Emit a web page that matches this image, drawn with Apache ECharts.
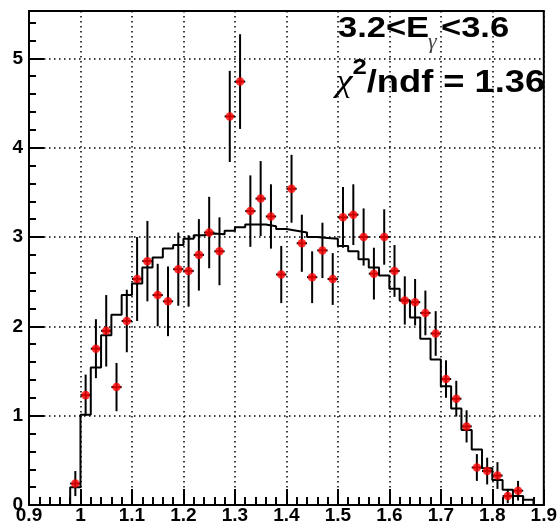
<!DOCTYPE html>
<html><head><meta charset="utf-8">
<script src="https://cdn.jsdelivr.net/npm/echarts@6/dist/echarts.min.js"></script>
<style>html,body{margin:0;padding:0;background:#fff}#c{width:560px;height:525px}</style>
</head><body><div id="c"></div>
<script>
// Data points (bin centres, values, errors)
const xCenters = [0.99,1.01,1.03,1.05,1.07,1.09,1.11,1.13,1.15,1.17,1.19,1.21,1.23,1.25,1.27,1.29,1.31,1.33,1.35,1.37,1.39,1.41,1.43,1.45,1.47,1.49,1.51,1.53,1.55,1.57,1.59,1.61,1.63,1.65,1.67,1.69,1.71,1.73,1.75,1.77,1.79,1.81,1.83,1.85];
const yValues = [0.24,1.23,1.75,1.95,1.32,2.06,2.53,2.73,2.35,2.28,2.64,2.62,2.80,3.05,2.84,4.35,4.74,3.29,3.43,3.23,2.58,3.54,2.93,2.55,2.85,2.53,3.22,3.25,3.00,2.59,3.00,2.62,2.29,2.27,2.15,1.92,1.41,1.19,0.88,0.42,0.38,0.33,0.10,0.16];
const yErrors = [0.14,0.23,0.33,0.40,0.27,0.35,0.47,0.45,0.35,0.39,0.41,0.40,0.40,0.40,0.38,0.51,0.53,0.40,0.42,0.36,0.32,0.38,0.32,0.29,0.31,0.29,0.34,0.34,0.32,0.29,0.31,0.29,0.27,0.26,0.25,0.25,0.21,0.20,0.18,0.15,0.15,0.15,0.08,0.11];
// Fit histogram (bin left edges, contents)
const fitBinLeft = [0.98,1.00,1.02,1.04,1.06,1.08,1.10,1.12,1.14,1.16,1.18,1.20,1.22,1.24,1.26,1.28,1.30,1.32,1.34,1.36,1.38,1.40,1.42,1.44,1.46,1.48,1.50,1.52,1.54,1.56,1.58,1.60,1.62,1.64,1.66,1.68,1.70,1.72,1.74,1.76,1.78,1.80,1.82,1.84,1.86];
const fitValues = [0.20,1.01,1.54,1.90,2.13,2.35,2.48,2.66,2.77,2.87,2.91,2.98,3.02,3.04,3.03,3.07,3.11,3.14,3.14,3.12,3.09,3.07,3.05,3.00,2.99,2.98,2.90,2.84,2.75,2.66,2.57,2.42,2.29,2.10,1.86,1.63,1.33,1.08,0.84,0.62,0.41,0.28,0.17,0.10,0.06];
const binWidth = 0.02;
// Axis settings
const xMin = 0.9, xMax = 1.9, xStep = 0.1;
const yMin = 0, yMax = 5.53, yStep = 1;

const pointData = xCenters.map((x, i) => [x, yValues[i], yErrors[i]]);
const fitData = [[fitBinLeft[0], 0]];
fitBinLeft.forEach((l, i) => { fitData.push([l, fitValues[i]]); fitData.push([l + binWidth, fitValues[i]]); });
fitData.push([fitBinLeft[fitBinLeft.length - 1] + binWidth, 0]);

const chart = echarts.init(document.getElementById('c'), null, {renderer: 'canvas'});
const SANS = '"Liberation Sans", Arial, sans-serif';
const labelFont = {fontFamily: SANS, fontWeight: 'bold', fontSize: 19, color: '#000'};
const dotted = {color: '#000', width: 1.5, type: [1.5, 3.5]};
const bigText = {fontFamily: SANS, fontWeight: 'bold', fontSize: 30, fill: '#000', verticalAlign: 'top', align: 'left'};
chart.setOption({
  animation: false,
  backgroundColor: '#fff',
  grid: {left: 29, right: 6, top: 11, bottom: 20, show: true, borderColor: '#000', borderWidth: 2, backgroundColor: 'transparent'},
  xAxis: {
    type: 'value', min: xMin, max: xMax, interval: xStep,
    axisLine: {show: true, onZero: false, lineStyle: {color: '#000', width: 2}},
    axisTick: {show: true, inside: true, length: 16, lineStyle: {color: '#000', width: 2}},
    minorTick: {show: true, splitNumber: 5, length: 8, lineStyle: {color: '#000', width: 2}},
    axisLabel: Object.assign({margin: 1}, labelFont),
    splitLine: {show: true, lineStyle: dotted}
  },
  yAxis: {
    type: 'value', min: yMin, max: yMax, interval: yStep,
    axisLine: {show: true, onZero: false, lineStyle: {color: '#000', width: 2}},
    axisTick: {show: true, inside: true, length: 15, lineStyle: {color: '#000', width: 2}},
    minorTick: {show: true, splitNumber: 5, length: 7, lineStyle: {color: '#000', width: 2}},
    axisLabel: Object.assign({margin: 6, showMaxLabel: false}, labelFont),
    splitLine: {show: true, lineStyle: dotted}
  },
  series: [
    {
      type: 'line', data: fitData, showSymbol: false, symbol: 'none',
      lineStyle: {color: '#000', width: 2}, z: 3, silent: true
    },
    {
      type: 'custom', data: pointData, z: 4, silent: true,
      renderItem: function (params, api) {
        const x = api.value(0), y = api.value(1), e = api.value(2);
        const t = api.coord([x, y + e]), b = api.coord([x, y - e]);
        const l = api.coord([x - binWidth / 2, y]), r = api.coord([x + binWidth / 2, y]);
        return {type: 'group', children: [
          {type: 'line', shape: {x1: t[0], y1: t[1], x2: b[0], y2: b[1]}, style: {stroke: '#000', lineWidth: 2}},
          {type: 'line', shape: {x1: l[0], y1: l[1], x2: r[0], y2: r[1]}, style: {stroke: '#000', lineWidth: 2}}
        ]};
      }
    },
    {
      type: 'scatter', data: pointData.map(p => [p[0], p[1]]), symbol: 'circle', symbolSize: 8.5,
      itemStyle: {color: '#ff0000'}, z: 5, silent: true
    }
  ],
  graphic: [
    {type: 'text', x: 338, y: 14, scaleX: 1.15, z: 100, style: Object.assign({text: '3.2<E'}, bigText)},
    {type: 'text', x: 428, y: 42, z: 100,
      style: {text: 'γ', fontFamily: '"Liberation Serif", serif', fontStyle: 'italic', fontSize: 22, fill: '#444', verticalAlign: 'middle', align: 'left'}},
    {type: 'text', x: 441, y: 14, scaleX: 1.15, z: 100, style: Object.assign({text: '<3.6'}, bigText)},
    {
      type: 'text', x: 336, y: 57, scaleX: 1.17, z: 100,
      style: {
        text: '{c|χ}{s|2}{a|/ndf = 1.36}', verticalAlign: 'top', align: 'left',
        rich: {
          c: {fontFamily: '"Liberation Serif", serif', fontStyle: 'italic', fontSize: 32, lineHeight: 42, verticalAlign: 'bottom', fill: '#000'},
          s: {fontFamily: SANS, fontWeight: 'bold', fontSize: 22, lineHeight: 22, verticalAlign: 'top', fill: '#000'},
          a: {fontFamily: SANS, fontWeight: 'bold', fontSize: 31, lineHeight: 42, verticalAlign: 'bottom', fill: '#000'}
        }
      }
    }
  ]
});
</script>
</body></html>
